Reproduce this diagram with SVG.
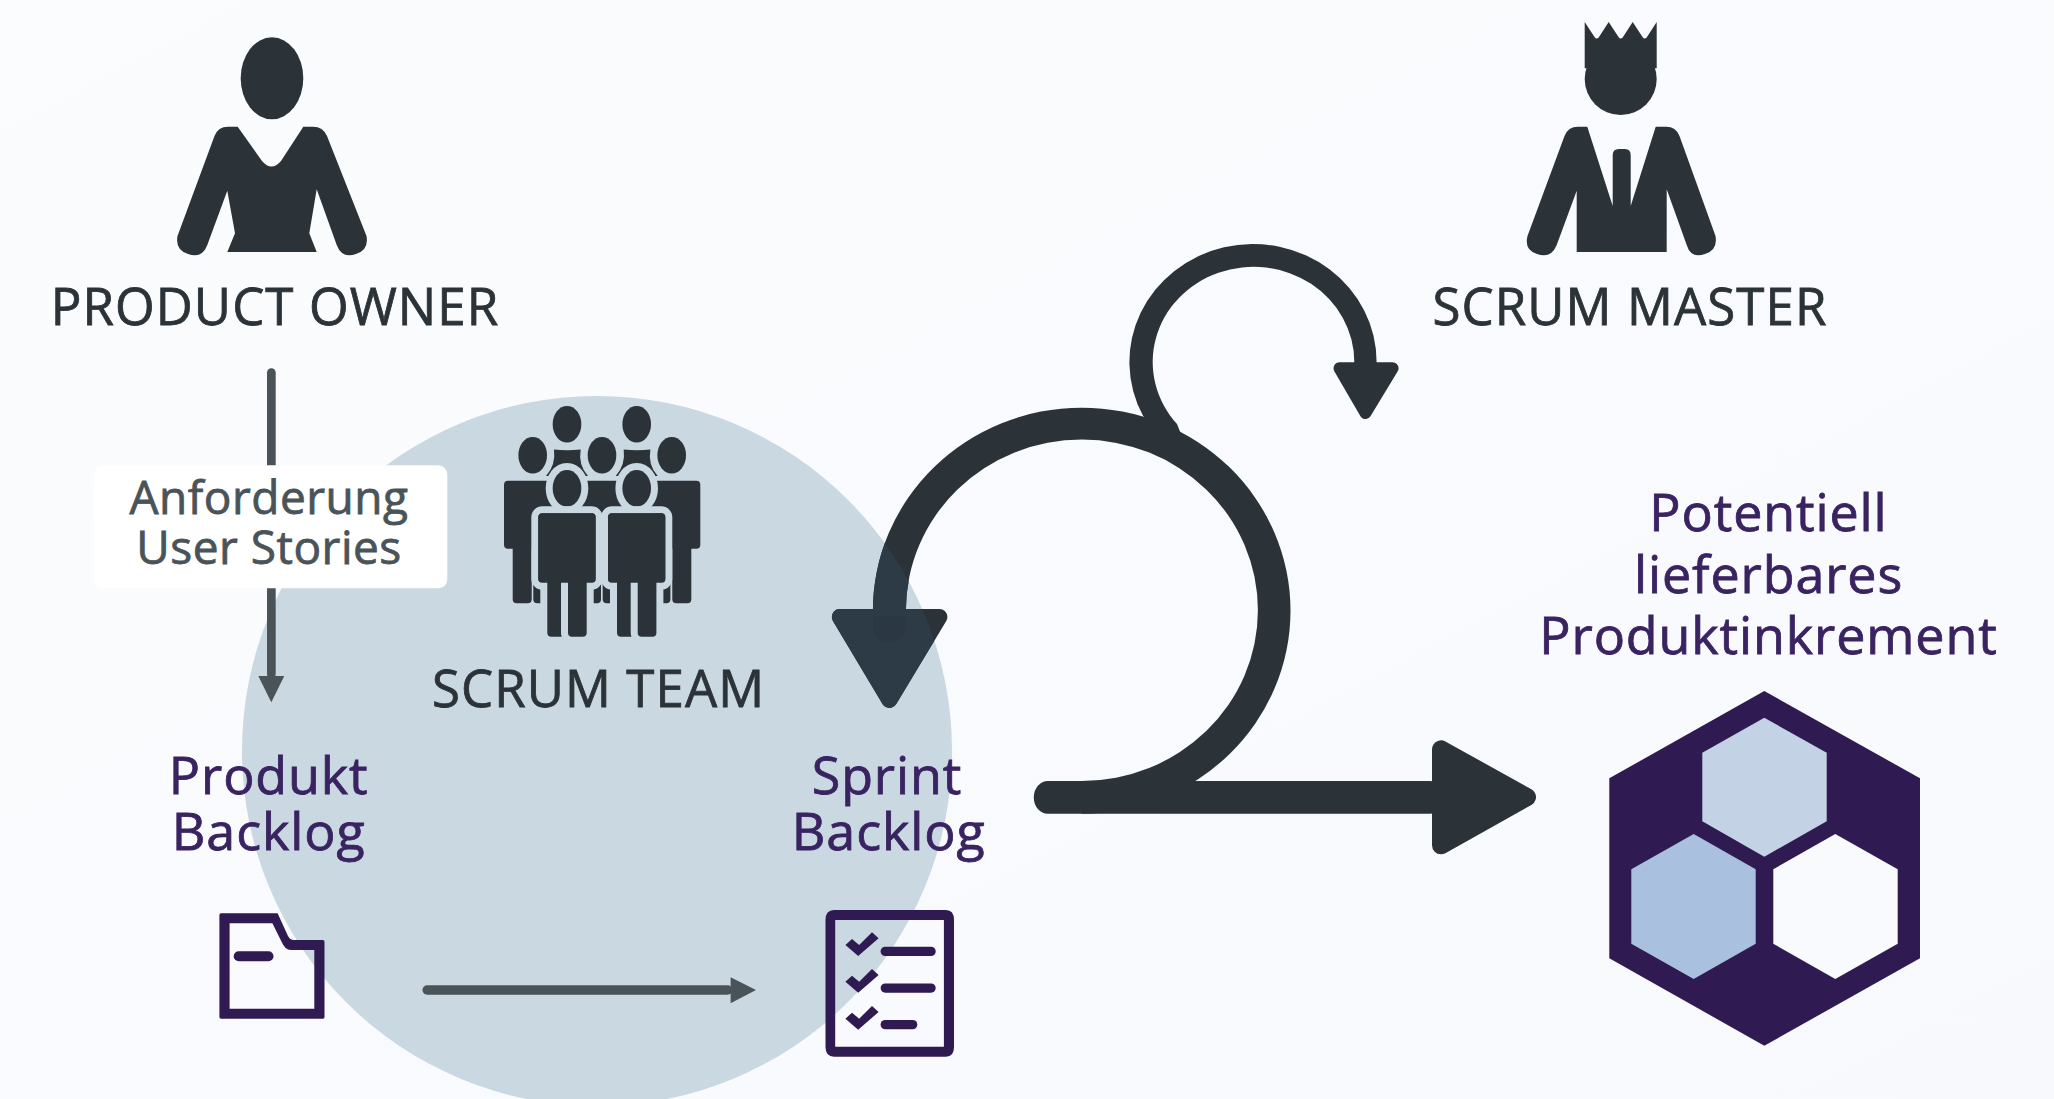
<svg xmlns="http://www.w3.org/2000/svg" xmlns:xlink="http://www.w3.org/1999/xlink" width="2054" height="1099" viewBox="0 0 2054 1099">
<style>
text{font-family:"Open Sans","Noto Sans","Liberation Sans",sans-serif;text-anchor:middle;font-weight:400;stroke-width:.8px}
.role{font-size:51px;fill:#2b3338;stroke:#2b3338;letter-spacing:1.1px}
.item{font-size:52px;fill:#392360;stroke:#392360;letter-spacing:.9px}
.note{font-size:46px;fill:#4a5358;stroke:#4a5358;letter-spacing:.5px}
.dark{fill:#2b3338}
.purple{fill:#2f1b52}
.halo{fill:#2b3338;stroke:#cad8e2;stroke-width:14;stroke-linejoin:round;paint-order:stroke}
.thin{fill:#4a5358}
.tint{fill:#2d3b47}
</style>
<defs>
<linearGradient id="bg" x1="0" y1="0" x2="1" y2="1"><stop offset="0" stop-color="#fbfcfd"/><stop offset="1" stop-color="#f7f9fd"/></linearGradient>
<clipPath id="inCircle"><circle cx="597" cy="751" r="355"/></clipPath>
<path id="bigLoop" d="M872.9,625 V610.8 A208.8,203 0 1 1 1081.7,813.7 V781 A176,170.7 0 1 0 905.9,610.3 V625 Q905.9,641.7 889.4,641.7 Q872.9,641.7 872.9,625 Z"/>
<polygon id="leftHead" points="839.8,616.9 939.4,616.9 889.4,700" stroke-width="16" stroke-linejoin="round"/>
<g id="tick"><polygon points="845.4,945 858.2,956 878.6,938.3 872,932.3 859.2,945 852,939"/></g>
</defs>
<rect width="2054" height="1099" fill="url(#bg)"/>
<circle id="team-circle" cx="597" cy="751" r="355" fill="#cad8e2"/>

<g id="connectors">
<g id="scrum-loop">
<use xlink:href="#bigLoop" class="dark"/>
<use xlink:href="#leftHead" class="dark" stroke="#2b3338"/>
<g clip-path="url(#inCircle)">
<use xlink:href="#bigLoop" class="tint"/>
<use xlink:href="#leftHead" class="tint" stroke="#2d3b47"/>
<path d="M873,616 V625 Q873,641.7 889.4,641.7 Q905.9,641.7 905.9,625 V616 Z" fill="#2b3843"/>
</g>
<path class="dark" d="M1143,415.8 A123.6,118 0 1 1 1376.6,362 V372 H1354.3 V362 A100.8,95.2 0 1 0 1177,424 L1181,434 L1165,445 Z"/>
<polygon class="dark" stroke="#2b3338" stroke-width="12" stroke-linejoin="round" points="1339.5,368.2 1392.6,368.2 1365.5,413"/>
<rect class="dark" x="1033.8" y="781" width="410" height="32.7" rx="14" ry="16.3"/>
<polygon class="dark" stroke="#2b3338" stroke-width="18" stroke-linejoin="round" points="1441,749.3 1441,845.3 1527,797.1"/>
</g>
<g id="owner-to-backlog">
<rect class="thin" x="267" y="368.3" width="8.7" height="310" rx="4.3"/>
<polygon class="thin" points="258.3,676 284.3,676 271.3,702.3"/>
</g>
<g id="backlog-to-sprint">
<rect class="thin" x="422.4" y="985.3" width="310" height="9.4" rx="4.7"/>
<polygon class="thin" points="730.6,977.3 756,990 730.6,1003.3"/>
</g>
</g>

<g id="note-label">
<rect x="94" y="465.3" width="353.3" height="123" rx="9" fill="#fff"/>
<text class="note" x="269" y="514">Anforderung</text>
<text class="note" x="269" y="564">User Stories</text>
</g>

<g id="product-owner">
<ellipse class="dark" cx="272" cy="78.3" rx="31.3" ry="41"/>
<path class="dark" d="M237.7,126.7 L262,161 Q271.5,172 281,161 L303.3,126.7 H313 Q323,126.7 327,136 L366.5,236 Q369,250 356,254 Q342,259 336.7,245 L316.7,189.3 L309.3,233.3 L316.7,252 H227.3 L235,233.3 L227.3,190.7 L207.3,245 Q202,259 188,254 Q175,250 177.5,236 L214.5,136 Q218,126.7 228,126.7 Z"/>
<text class="role" x="275" y="325">PRODUCT OWNER</text>
</g>

<g id="scrum-master">
<path class="dark" d="M1584.7,22 L1594.5,37 Q1596.7,40 1599,37 L1608.7,22 L1618.5,37 Q1620.7,40 1623,37 L1632.7,22 L1642.5,37 Q1644.7,40 1647,37 L1656.7,22 V68.3 H1584.7 Z"/>
<circle class="dark" cx="1620.7" cy="79" r="36"/>
<path class="dark" d="M1587.3,126.7 L1612.7,206 V155 Q1612.7,149 1619,149 H1625 Q1630.7,149 1630.7,155 V206 L1655.7,126.7 H1666 Q1676,126.7 1679.5,136 L1715.5,236 Q1718,250 1705,254 Q1691,259 1686.7,245 L1666.7,189.3 V252 H1576.7 V190.7 L1556.7,245 Q1551,259 1537,254 Q1524,250 1527.5,236 L1564.5,136 Q1568,126.7 1578,126.7 Z"/>
<text class="role" x="1630" y="325">SCRUM MASTER</text>
</g>

<g id="scrum-team">
<g id="team-back">
<ellipse class="dark" cx="567" cy="424.3" rx="14.3" ry="18.3"/>
<ellipse class="dark" cx="636.7" cy="424.3" rx="14.3" ry="18.3"/>
<path class="dark" d="M554,449.5 Q567,451 580.7,449.5 Q578,465 588,476 H546 Q556,465 554,449.5 Z"/>
<path class="dark" d="M623.7,449.5 Q636.7,451 650.4,449.5 Q647.7,465 657.7,476 H615.7 Q625.7,465 623.7,449.5 Z"/>
<ellipse class="dark" cx="532.7" cy="455.3" rx="14.3" ry="18.3"/>
<ellipse class="dark" cx="602" cy="455.3" rx="14.3" ry="18.3"/>
<ellipse class="dark" cx="671.7" cy="455.3" rx="14.3" ry="18.3"/>
<rect class="dark" x="504" y="480.7" width="57.3" height="68" rx="4"/>
<rect class="dark" x="512.7" y="540" width="19" height="63.3" rx="4"/>
<rect class="dark" x="533.3" y="540" width="19.4" height="63.3" rx="4"/>
<rect class="dark" x="573.3" y="480.7" width="57.3" height="68" rx="4"/>
<rect class="dark" x="582" y="540" width="19" height="63.3" rx="4"/>
<rect class="dark" x="602.7" y="540" width="19.4" height="63.3" rx="4"/>
<rect class="dark" x="643" y="480.7" width="57.3" height="68" rx="4"/>
<rect class="dark" x="651" y="540" width="19.4" height="63.3" rx="4"/>
<rect class="dark" x="672.3" y="540" width="19" height="63.3" rx="4"/>
</g>
<g id="team-front-left">
<ellipse class="halo" cx="567" cy="488.3" rx="14.3" ry="18.3"/>
<rect class="halo" x="538.3" y="513.3" width="57.3" height="69.4" rx="4"/>
<rect class="halo" x="547.3" y="575" width="18.7" height="61.7" rx="4"/>
<rect class="halo" x="568" y="575" width="18.7" height="61.7" rx="4"/>
<rect class="dark" x="538.3" y="513.3" width="57.3" height="69.4" rx="4"/>
</g>
<g id="team-front-right">
<ellipse class="halo" cx="636.7" cy="488.3" rx="14.3" ry="18.3"/>
<rect class="halo" x="608" y="513.3" width="57.3" height="69.4" rx="4"/>
<rect class="halo" x="617" y="575" width="18.7" height="61.7" rx="4"/>
<rect class="halo" x="637.7" y="575" width="18.7" height="61.7" rx="4"/>
<rect class="dark" x="608" y="513.3" width="57.3" height="69.4" rx="4"/>
</g>
<text class="role" x="598.6" y="707">SCRUM TEAM</text>
</g>

<g id="product-backlog">
<text class="item" x="268.7" y="794">Produkt</text>
<text class="item" x="268.7" y="850">Backlog</text>
<path class="purple" fill-rule="evenodd" d="M221,913.3 H277.6 L288,936 Q290,940 294,940 H323 Q324.5,940 324.5,942 V1017 Q324.5,1018.7 323,1018.7 H221 Q219.4,1018.7 219.4,1017 V915 Q219.4,913.3 221,913.3 Z M229.6,923.3 V1008.7 H314.3 V950 H290.8 Q285,950 281.6,941.7 L272.4,923.3 Z"/>
<rect class="purple" x="233.7" y="951.3" width="39.8" height="10" rx="5"/>
</g>

<g id="sprint-backlog">
<text class="item" x="887" y="794">Sprint</text>
<text class="item" x="888.7" y="850">Backlog</text>
<path class="purple" fill-rule="evenodd" d="M834,910 H946 Q954,910 954,920 V1047 Q954,1056.7 946,1056.7 H834 Q825.5,1056.7 825.5,1047 V920 Q825.5,910 834,910 Z M835.2,920 V1046.7 H943.9 V920 Z"/>
<use xlink:href="#tick" class="purple"/>
<use xlink:href="#tick" class="purple" y="36.7"/>
<use xlink:href="#tick" class="purple" y="73.7"/>
<rect class="purple" x="880.6" y="946.7" width="55.1" height="9.3" rx="4.6"/>
<rect class="purple" x="880.6" y="983.4" width="55.1" height="9.3" rx="4.6"/>
<rect class="purple" x="880.6" y="1020" width="36.7" height="9.3" rx="4.6"/>
</g>

<g id="increment">
<text class="item" x="1768.5" y="531">Potentiell</text>
<text class="item" x="1768.5" y="592.7">lieferbares</text>
<text class="item" x="1768.5" y="654">Produktinkrement</text>
<polygon class="purple" points="1764.3,691 1920,778.3 1920,958.3 1764.3,1045.7 1609.3,958.3 1609.3,778.3"/>
<polygon fill="#c3d3e5" points="1764.3,717.7 1826.7,752.7 1826.7,821.3 1764.3,856.7 1702.3,821.3 1702.3,752.7"/>
<polygon fill="#a9c0de" points="1693.7,834 1755.7,869.3 1755.7,943.7 1693.7,979 1631.3,943.7 1631.3,869.3"/>
<polygon fill="#f8fafd" points="1835.3,834 1897.7,869.3 1897.7,943.7 1835.3,979 1773.3,943.7 1773.3,869.3"/>
</g>
</svg>
